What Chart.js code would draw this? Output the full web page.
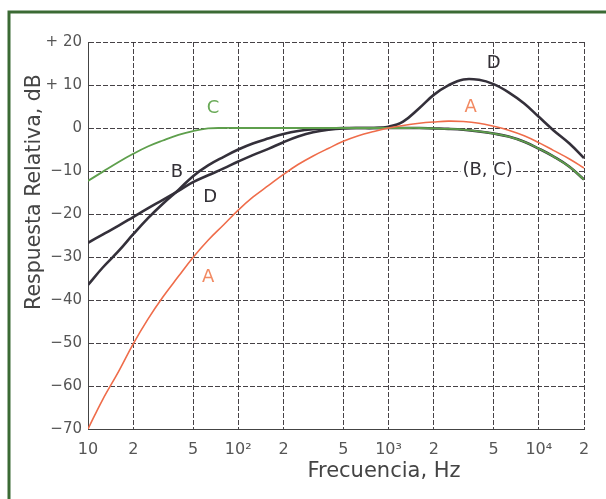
<!DOCTYPE html>
<html>
<head>
<meta charset="utf-8">
<script src="https://cdn.jsdelivr.net/npm/chart.js@4.4.1/dist/chart.umd.min.js"></script>
<style>
  html, body { margin: 0; padding: 0; background: #ffffff; }
  #wrap { width: 606px; height: 499px; position: relative; }
</style>
</head>
<body>
<div id="wrap"><canvas id="c" width="606" height="499"></canvas></div>
<script>
// frequencies (Hz), third-octave points
const freqs = [10, 12.5, 16, 20, 25, 31.5, 40, 50, 63, 80, 100, 125, 160, 200, 250, 315, 400, 500,
  630, 800, 1000, 1250, 1600, 2000, 2500, 3150, 4000, 5000, 6300, 8000, 10000, 12500, 16000, 20000];

const curveA = [-70, -63.2, -56.6, -50.2, -44.5, -39.3, -34.5, -30.1, -26.1, -22.5, -19.1, -16.1, -13.3, -10.8,
  -8.5, -6.5, -4.7, -3.1, -1.8, -0.8, 0, 0.6, 1.1, 1.4, 1.6, 1.5, 1.1, 0.4, -0.5, -1.8, -3.4, -5.2, -7.2, -9.3];
const curveB = [-36.5, -32.5, -28.6, -24.7, -21, -17.6, -14.4, -11.2, -8.7, -6.7, -5, -3.6, -2.4, -1.4,
  -0.7, -0.3, -0.1, 0, 0, 0, 0, 0, 0, -0.1, -0.2, -0.4, -0.8, -1.3, -2, -3.2, -4.8, -6.6, -9, -12];
const curveC = [-12.3, -10.2, -7.9, -6, -4.3, -2.9, -1.6, -0.7, -0.1, 0, 0, 0, 0, 0,
  0, 0, 0, 0, 0, 0, 0, 0, 0, -0.1, -0.2, -0.4, -0.8, -1.3, -2, -3.2, -4.8, -6.6, -9, -12];
const curveD = [-26.7, -24.8, -22.7, -20.7, -18.7, -16.7, -14.6, -12.6, -11, -9.4, -7.8, -6.3, -4.8, -3.3,
  -2, -1, -0.4, -0.1, 0, 0, 0.3, 1.5, 4.6, 7.7, 9.9, 11.3, 11.2, 10.2, 8.3, 5.7, 2.6, -0.5, -3.6, -7];

// x ticks and their labels
const xTicks = [10, 20, 50, 100, 200, 500, 1000, 2000, 5000, 10000, 20000];
const xTickLabels = ['10', '2', '5', '10²', '2', '5', '10³', '2', '5', '10⁴', '2'];

// curve labels
const labelText = ['C', 'B', 'D', 'A', 'D', 'A', '(B, C)'];
const labelFreq = [68, 39, 65, 63, 5010, 3520, 4570];
const labelDb = [4.6, -10.2, -16.2, -34.7, 15.1, 4.9, -9.8];
const labelColor = ['#6aaa58', '#333036', '#333036', '#f28a62', '#333036', '#f28a62', '#333036'];
const labelBox = [false, true, false, false, false, false, true];

const orange = '#ef6c4a';
const green = '#5e9f4c';
const dark = '#34303a';
const FONT = '"DejaVu Sans", Verdana, sans-serif';

function pts(vals) {
  return freqs.map((f, i) => ({ x: f, y: vals[i] }));
}

const framePlugin = {
  id: 'frame',
  beforeDraw(chart) {
    const ctx = chart.ctx;
    ctx.save();
    ctx.fillStyle = '#ffffff';
    ctx.fillRect(0, 0, chart.width, chart.height);
    ctx.strokeStyle = '#3b6a34';
    ctx.lineWidth = 3;
    ctx.beginPath();
    ctx.moveTo(9, chart.height + 2);
    ctx.lineTo(9, 12);
    ctx.lineTo(chart.width + 2, 12);
    ctx.stroke();
    ctx.restore();
  },
  afterDraw(chart) {
    // axis titles
    const ctx = chart.ctx;
    ctx.save();
    ctx.fillStyle = '#444';
    ctx.textAlign = 'center';
    ctx.textBaseline = 'middle';
    ctx.font = '21px ' + FONT;
    ctx.fillText('Frecuencia, Hz', 384, 472);
    ctx.translate(35, 192);
    ctx.rotate(-Math.PI / 2);
    ctx.font = '20.5px ' + FONT;
    ctx.fillText('Respuesta Relativa, dB', 0, 0);
    ctx.restore();
  }
};

const labelPlugin = {
  id: 'curveLabels',
  afterDatasetsDraw(chart) {
    const ctx = chart.ctx;
    const xs = chart.scales.x, ys = chart.scales.y;
    ctx.save();
    ctx.font = '18px ' + FONT;
    ctx.textAlign = 'center';
    ctx.textBaseline = 'middle';
    labelText.forEach((t, i) => {
      const px = xs.getPixelForValue(labelFreq[i]);
      const py = ys.getPixelForValue(labelDb[i]);
      if (labelBox[i]) {
        const w = ctx.measureText(t).width + 4;
        ctx.fillStyle = '#ffffff';
        ctx.fillRect(px - w / 2, py - 5, w, 10);
      }
      ctx.fillStyle = labelColor[i];
      ctx.fillText(t, px, py);
    });
    ctx.restore();
  }
};

const gridStyle = {
  color: 'rgba(50,45,50,0.9)',
  lineWidth: 1,
  drawTicks: false
};

new Chart(document.getElementById('c'), {
  type: 'line',
  data: {
    datasets: [
      { label: 'A', data: pts(curveA), borderColor: orange, borderWidth: 1.6 },
      { label: 'C', data: pts(curveC), borderColor: green, borderWidth: 1.8 },
      { label: 'D', data: pts(curveD), borderColor: dark, borderWidth: 2.6 },
      { label: 'B', data: pts(curveB), borderColor: dark, borderWidth: 2.6 }
    ]
  },
  options: {
    responsive: false,
    animation: false,
    elements: {
      point: { radius: 0 },
      line: { tension: 0.4, fill: false }
    },
    layout: { padding: { top: 42, right: 22, left: 0, bottom: 0 } },
    plugins: {
      legend: { display: false },
      tooltip: { enabled: false }
    },
    scales: {
      x: {
        type: 'logarithmic',
        min: 10,
        max: 20000,
        afterBuildTicks(scale) {
          scale.ticks = xTicks.map(v => ({ value: v }));
        },
        afterFit(scale) { scale.height = 70; },
        grid: Object.assign({}, gridStyle),
        border: { display: true, color: '#444', dash: [5, 2] },
        ticks: {
          autoSkip: false,
          maxRotation: 0,
          padding: 11,
          color: '#555',
          font: { family: FONT, size: 16 },
          callback: (v, i) => xTickLabels[i]
        }
      },
      y: {
        type: 'linear',
        min: -70,
        max: 20,
        afterFit(scale) { scale.width = 88; },
        grid: Object.assign({}, gridStyle),
        border: { display: true, color: '#444', dash: [5, 2] },
        ticks: {
          stepSize: 10,
          padding: 6,
          color: '#555',
          font: { family: FONT, size: 15 },
          callback: v => v > 0 ? '+ ' + v : (v < 0 ? '\u2212' + Math.abs(v) : '0')
        }
      }
    }
  },
  plugins: [framePlugin, labelPlugin]
});
</script>
</body>
</html>
